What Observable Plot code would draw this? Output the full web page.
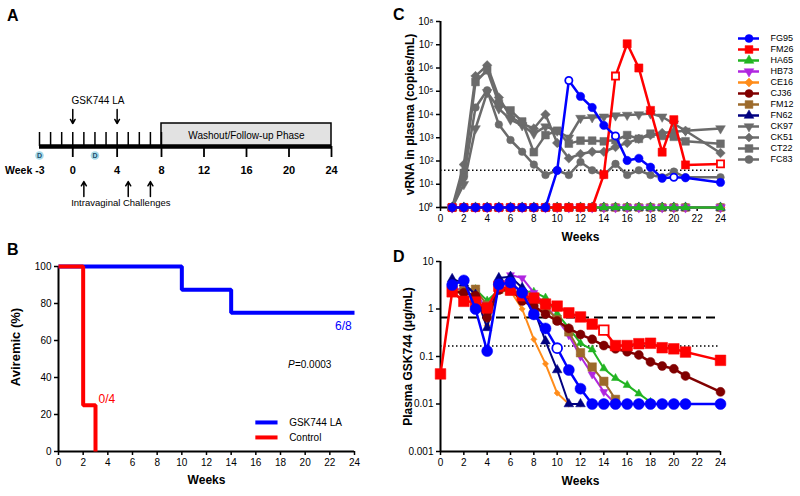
<!DOCTYPE html>
<html><head><meta charset="utf-8">
<script src="https://cdn.jsdelivr.net/npm/d3@7"></script>
<script src="https://cdn.jsdelivr.net/npm/@observablehq/plot@0.6"></script>
<style>
body{margin:0;background:#fff;}
#fig{position:relative;width:800px;height:496px;overflow:hidden;background:#fff;font-family:"Liberation Sans",Arial,sans-serif;}
.panel{position:absolute;}
.letter{position:absolute;font-weight:bold;font-size:16px;line-height:16px;font-family:"Liberation Sans",Arial,sans-serif;}
</style></head><body>
<div id="fig"></div>
<script>
// ---------------- Panel A data ----------------
const baselineWeeks = [-3,-2,-1,0,1,2,3,4,5,6,7,8];
const labelWeeks = [0,4,8,12,16,20,24];
const injectionWeeks = [0,4];
const challengeWeeks = [1,5,7];
const swabWeeks = [-3,2];
const washoutPhase = [{start: 8, end: 24, label: "Washout/Follow-up Phase"}];

// ---------------- Panel B data ----------------
const kmWeeksLA = [0,10,14,24];
const kmLA = [100,87.5,75,75];
const kmWeeksCtrl = [0,2,3];
const kmCtrl = [100,25,0];
const kmLegend = ["GSK744 LA","Control"];
const pctTicks = [0,20,40,60,80,100];
const weekTicks = [0,2,4,6,8,10,12,14,16,18,20,22,24];

// ---------------- Panel C data (vRNA copies/mL) ----------------
const weeksC = [1,2,3,4,5,6,7,8,9,10,11,12,13,14,15,16,17,18,19,20,21,24];
const undetectedC = [1,1,1,1,1,1,1,1,1,1,1,1,1,1,1,1,1,1,1,1,1,1];
const vrnaFG95 = [1,1,1,1,1,1,1,1,1,39,290000,60000,20000,3400,1200,105,130,54,18,20,19,12];
const vrnaFM26 = [1,1,1,1,1,1,1,1,1,1,1,1,1,26,450000,11000000,1000000,15000,240,6000,68,75];
const vrnaCK97 = [1,10,2500,90000,18000,6000,3400,1500,3000,2000,1000,7000,7500,8000,9000,9500,10000,11000,8000,4000,2000,2500];
const vrnaCK51 = [1,70,450000,1300000,54000,8000,4000,2500,10000,600,130,200,250,250,400,600,900,1300,1600,1800,2000,220];
const vrnaCT22 = [1,30,250000,800000,30000,15000,5000,240,1300,2000,560,750,750,700,800,1300,900,1500,1200,1100,700,550];
const vrnaFC83 = [1,20,20000,110000,3700,800,250,70,25,40,25,90,40,25,75,25,40,25,20,35,20,20];
const openFG95_C = [11,15,20];
const openFM26_C = [15,24];
const lodC = 40;
const copyTicks = [1,10,100,1000,10000,100000,1000000,10000000,100000000];

// ---------------- Panel D data (plasma GSK744 ug/mL) ----------------
const weeksD = [0,1,2,3,4,5,6,7,8,9,10,11,12,13,14,15,16,17,18,19,20,21,24];
const pkFG95 = [null,3.2,4.0,1.0,0.13,3.3,3.6,2.2,0.77,0.39,0.15,0.052,0.021,0.01,0.01,0.01,0.01,0.01,0.01,0.01,0.01,0.01,0.01];
const pkFM26 = [0.043,2.3,1.45,1.4,1.05,3.0,2.5,1.9,1.7,1.27,1.15,0.83,0.68,0.48,0.36,0.17,0.17,0.186,0.19,0.153,0.145,0.124,0.083];
const pkCJ36 = [null,2.3,2.2,1.9,0.66,2.5,2.6,1.47,1.15,0.78,0.56,0.39,0.29,0.23,0.17,0.145,0.126,0.108,0.077,0.063,0.055,0.039,0.018];
const pkHA65 = [null,2.2,2.6,2.6,1.5,2.5,2.3,2.3,2.3,1.73,0.8,0.4,0.19,0.14,0.056,0.035,0.025,0.0165,0.011,null,null,null,null];
const pkHB73 = [null,2.5,2.7,2.4,0.9,2.8,5.2,4.5,2.2,1.2,0.6,0.28,0.1,0.042,0.018,0.01,null,null,null,null,null,null,null];
const pkFM12 = [null,2.5,2.4,2.6,1.2,2.6,2.4,2.0,1.6,1.1,0.6,0.33,0.12,0.06,0.03,0.0125,null,null,null,null,null,null,null];
const pkCE16 = [null,2.5,2.2,2.0,0.45,2.6,2.4,1.0,0.23,0.07,0.017,0.01,0.01,null,null,null,null,null,null,null,null,null,null];
const pkFN62 = [null,4.3,3.5,2.0,0.4,4.5,4.8,2.8,1.0,0.21,0.052,0.01,0.01,null,null,null,null,null,null,null,null,null,null];
const openFG95_D = [10];
const openFM26_D = [14];
const paIC90 = 0.166;
const paIC90x4 = 0.664;
const concTicks = [0.001,0.01,0.1,1,10];

// ---------------- animals ----------------
const animals = ["FG95","FM26","HA65","HB73","CE16","CJ36","FM12","FN62","CK97","CK51","CT22","FC83"];
const animalColors = ["#0000ff","#ff0000","#22b422","#b026e0","#ff8c1a","#800000","#9c6a2b","#000080","#6b6b6b","#6b6b6b","#6b6b6b","#6b6b6b"];
const animalSymbols = ["circle","square","triangle","triangleDown","diamond2","circle","square","triangle","triangleDown","diamond2","square","circle"];

// ---------------- helpers ----------------
const FONT = '"Liberation Sans", Arial, sans-serif';
const triangleDown = {draw(ctx, size) {
  const y = -Math.sqrt(size / (Math.sqrt(3) * 3));
  ctx.moveTo(0, -2 * y);
  ctx.lineTo(Math.sqrt(3) * y, y);
  ctx.lineTo(-Math.sqrt(3) * y, y);
  ctx.closePath();
}};
const sym = s => s === "triangleDown" ? triangleDown : s;
const colorOf = Object.fromEntries(animals.map((a, i) => [a, animalColors[i]]));
const symbolOf = Object.fromEntries(animals.map((a, i) => [a, animalSymbols[i]]));
const rowsOf = (weeks, vals) => weeks.map((w, i) => ({week: w, value: vals[i]})).filter(d => d.value != null);
const supDigits = {"0":"⁰","1":"¹","2":"²","3":"³","4":"⁴","5":"⁵","6":"⁶","7":"⁷","8":"⁸","9":"⁹"};
const powTen = d => "10" + supDigits[String(Math.round(Math.log10(d)))];

function seriesMarks(rows, id, r, sw, openWeeks = []) {
  const color = colorOf[id], s = sym(symbolOf[id]);
  const filled = rows.filter(d => !openWeeks.includes(d.week));
  const open = rows.filter(d => openWeeks.includes(d.week));
  return [
    Plot.line(rows, {x: "week", y: "value", stroke: color, strokeWidth: sw}),
    Plot.dot(filled, {x: "week", y: "value", symbol: s, r, fill: color, stroke: color, strokeWidth: 0.5}),
    Plot.dot(open, {x: "week", y: "value", symbol: s, r: r - 0.6, fill: "white", stroke: color, strokeWidth: 1.8})
  ];
}
const baseStyle = {fontFamily: FONT, fontSize: "10px", color: "black", background: "none", overflow: "visible"};
const fig = document.getElementById("fig");
function place(svg, left, top) { svg.classList.add("panel"); svg.style.left = left + "px"; svg.style.top = top + "px"; svg.style.position = "absolute"; fig.appendChild(svg); }
function letter(t, left, top) { const d = document.createElement("div"); d.className = "letter"; d.textContent = t; d.style.left = left + "px"; d.style.top = top + "px"; fig.appendChild(d); }

// ---------------- Panel A ----------------
const plotA = Plot.plot({
  width: 400, height: 250, marginLeft: 39, marginRight: 69, marginTop: 0, marginBottom: 0,
  style: baseStyle,
  x: {type: "linear", domain: [-3, 8, 24], range: [39, 161, 331], axis: null},
  y: {domain: [0, 250], range: [0, 250], axis: null},
  marks: [
    Plot.rect(washoutPhase, {x1: "start", x2: "end", y1: 123, y2: 146, fill: "#e2e2e2", stroke: "black", strokeWidth: 1.5}),
    Plot.text(washoutPhase, {x: d => (d.start + d.end) / 2, y: 135, text: "label", fontSize: 10}),
    Plot.ruleX(baselineWeeks, {x: d => d, y1: 132, y2: 146, strokeWidth: 1.5}),
    Plot.ruleX(labelWeeks, {x: d => d, y1: 146, y2: 157, strokeWidth: 1.8}),
    Plot.ruleY([146], {x1: -3, x2: 24, strokeWidth: 4.5}),
    Plot.dot(swabWeeks, {x: d => d, y: 155, r: 4.3, fill: "#a9dbe9"}),
    Plot.text(swabWeeks, {x: d => d, y: 155, text: () => "D", fontSize: 7, fontWeight: "bold", fill: "#1d4f6e"}),
    Plot.text(labelWeeks, {x: d => d, y: 170, text: d => String(d), fontSize: 11, fontWeight: "bold"}),
    Plot.text(["Week -3"], {x: -3, dx: 5, y: 170, textAnchor: "end", fontSize: 10.5, fontWeight: "bold"}),
    Plot.text(["GSK744 LA"], {x: d3.mean(injectionWeeks), dx: 3, y: 100, fontSize: 10}),
    Plot.arrow(injectionWeeks, {x: d => d, y1: 109, y2: 123, headLength: 5, strokeWidth: 1.5, stroke: "black"}),
    Plot.arrow(challengeWeeks, {x: d => d, y1: 196, y2: 181, headLength: 5, strokeWidth: 1.5, stroke: "black"}),
    Plot.text(["Intravaginal Challenges"], {x: d3.mean(challengeWeeks), y: 202, fontSize: 9.5})
  ]
});
place(plotA, 0, 0);

// ---------------- Panel B ----------------
const rowsLA = kmWeeksLA.map((w, i) => ({week: w, pct: kmLA[i]}));
const rowsCtrl = kmWeeksCtrl.map((w, i) => ({week: w, pct: kmCtrl[i]}));
const plotB = Plot.plot({
  width: 400, height: 246, marginLeft: 58, marginRight: 46, marginTop: 16, marginBottom: 45,
  style: baseStyle,
  x: {domain: [0, 24], axis: null},
  y: {domain: [0, 100], axis: null},
  marks: [
    Plot.axisX({ticks: weekTicks, tickSize: 4, tickPadding: 3, strokeWidth: 1.5, label: null, fontSize: 10}),
    Plot.axisY({ticks: pctTicks, tickSize: 4, tickPadding: 3, strokeWidth: 1.5, label: null, fontSize: 10}),
    Plot.ruleX([0], {strokeWidth: 2}),
    Plot.ruleY([0], {strokeWidth: 2}),
    Plot.line(rowsLA, {x: "week", y: "pct", curve: "step-after", stroke: "#0000ff", strokeWidth: 4, strokeLinejoin: "miter", strokeLinecap: "butt"}),
    Plot.line(rowsCtrl, {x: "week", y: "pct", curve: "step-after", stroke: "#ff0000", strokeWidth: 4, strokeLinejoin: "miter", strokeLinecap: "butt"}),
    Plot.text(["6/8"], {x: 23.1, y: 67.5, fill: "#0000ff", fontSize: 12}),
    Plot.text(["0/4"], {x: 3.25, y: 28.5, textAnchor: "start", fill: "#ff0000", fontSize: 12}),
    Plot.text(["P"], {x: 18.6, y: 47, textAnchor: "start", fontStyle: "italic", fontSize: 10}),
    Plot.text(["=0.0003"], {x: 18.6, dx: 7, y: 47, textAnchor: "start", fontSize: 10}),
    Plot.ruleY(kmLegend, {x1: 16, x2: 17.8, y: (d, i) => [15.7, 7.6][i], stroke: (d, i) => ["#0000ff", "#ff0000"][i], strokeWidth: 4}),
    Plot.text(kmLegend, {x: 18.7, y: (d, i) => [15.7, 7.6][i], textAnchor: "start", fontSize: 10}),
    Plot.text(["Weeks"], {frameAnchor: "bottom", dy: 32, fontWeight: "bold", fontSize: 12}),
    Plot.text(["Aviremic (%)"], {frameAnchor: "left", textAnchor: "middle", dx: -43, dy: -12, rotate: -90, fontWeight: "bold", fontSize: 13})
  ]
});
place(plotB, 0, 250);

// ---------------- Panel C ----------------
const cRow = vals => rowsOf(weeksC, vals);
const plotC = Plot.plot({
  width: 330, height: 250, marginLeft: 40, marginRight: 10, marginTop: 21, marginBottom: 43,
  style: baseStyle,
  x: {domain: [0, 24], axis: null},
  y: {type: "log", domain: [1, 1e8], axis: null},
  marks: [
    Plot.axisX({ticks: weekTicks, tickSize: 4, tickPadding: 3, strokeWidth: 1.5, label: null, fontSize: 10}),
    Plot.axisY({ticks: copyTicks, tickFormat: powTen, tickSize: 4, tickPadding: 3, strokeWidth: 1.5, label: null, fontSize: 10}),
    Plot.ruleX([0], {strokeWidth: 2}),
    Plot.ruleY([1], {strokeWidth: 2}),
    Plot.ruleY([lodC], {x1: 0, x2: 24, strokeWidth: 1.5, strokeDasharray: "1.5,2.5"}),
    ...seriesMarks(cRow(vrnaCK97), "CK97", 3.6, 2.5),
    ...seriesMarks(cRow(vrnaCK51), "CK51", 4.3, 2.5),
    ...seriesMarks(cRow(vrnaCT22), "CT22", 4.4, 2.5),
    ...seriesMarks(cRow(vrnaFC83), "FC83", 3.8, 2.5),
    ...seriesMarks(cRow(undetectedC), "CJ36", 4, 2.5),
    ...seriesMarks(cRow(undetectedC), "FM12", 4.4, 2.5),
    ...seriesMarks(cRow(undetectedC), "FN62", 3.6, 2.5),
    ...seriesMarks(cRow(undetectedC), "CE16", 4, 2.5),
    ...seriesMarks(cRow(undetectedC), "HB73", 3.6, 2.5),
    ...seriesMarks(cRow(undetectedC), "HA65", 3.2, 2.5),
    ...seriesMarks(cRow(vrnaFM26), "FM26", 4.6, 2.5, openFM26_C),
    ...seriesMarks(cRow(vrnaFG95), "FG95", 4.2, 2.5, openFG95_C),
    Plot.text(["Weeks"], {frameAnchor: "bottom", dy: 33, fontWeight: "bold", fontSize: 12}),
    Plot.text(["vRNA in plasma (copies/mL)"], {frameAnchor: "left", textAnchor: "middle", dx: -30, rotate: -90, fontWeight: "bold", fontSize: 12})
  ]
});
place(plotC, 400, 0);

// ---------------- Legend for C ----------------
const legendC = Plot.plot({
  width: 70, height: 160, marginLeft: 0, marginRight: 0, marginTop: 0, marginBottom: 0,
  style: baseStyle,
  x: {domain: [0, 1], range: [8, 29], axis: null},
  y: {type: "point", domain: animals, range: [10, 147], axis: null},
  marks: [
    ...animals.flatMap(a => [
      Plot.ruleY([a], {y: d => d, x1: 0, x2: 1, stroke: colorOf[a], strokeWidth: 2.5}),
      Plot.dot([a], {x: 0.5, y: d => d, symbol: sym(symbolOf[a]), r: symbolOf[a] === "square" ? 4.4 : symbolOf[a].startsWith("tri") ? 3.6 : 4, fill: colorOf[a], stroke: colorOf[a], strokeWidth: 0.5})
    ]),
    Plot.text(animals, {x: 1, y: d => d, dx: 11, textAnchor: "start", fontSize: 9})
  ]
});
place(legendC, 730, 20);

// ---------------- Panel D ----------------
const dRow = vals => rowsOf(weeksD, vals);
const plotD = Plot.plot({
  width: 330, height: 246, marginLeft: 40, marginRight: 10, marginTop: 11, marginBottom: 45,
  style: baseStyle,
  x: {domain: [0, 24], axis: null},
  y: {type: "log", domain: [0.001, 10], axis: null},
  marks: [
    Plot.axisX({ticks: weekTicks, tickSize: 4, tickPadding: 3, strokeWidth: 1.5, label: null, fontSize: 10}),
    Plot.axisY({ticks: concTicks, tickFormat: d => String(d), tickSize: 4, tickPadding: 3, strokeWidth: 1.5, label: null, fontSize: 10}),
    Plot.ruleX([0], {strokeWidth: 2}),
    Plot.ruleY([0.001], {strokeWidth: 2}),
    Plot.ruleY([paIC90x4], {x1: 0, x2: 24, strokeWidth: 2, strokeDasharray: "9,5"}),
    Plot.ruleY([paIC90], {x1: 0, x2: 24, strokeWidth: 1.5, strokeDasharray: "1.5,2.5"}),
    ...seriesMarks(dRow(pkHA65), "HA65", 3, 2),
    ...seriesMarks(dRow(pkHB73), "HB73", 3, 2),
    ...seriesMarks(dRow(pkFM12), "FM12", 4.8, 2),
    ...seriesMarks(dRow(pkCE16), "CE16", 2.8, 2),
    ...seriesMarks(dRow(pkFN62), "FN62", 3.6, 2),
    ...seriesMarks(dRow(pkCJ36), "CJ36", 4.5, 2.5),
    ...seriesMarks(dRow(pkFM26), "FM26", 6, 2.5, openFM26_D),
    ...seriesMarks(dRow(pkFG95), "FG95", 5.5, 2.5, openFG95_D),
    Plot.text(["Weeks"], {frameAnchor: "bottom", dy: 33, fontWeight: "bold", fontSize: 12}),
    Plot.text(["Plasma GSK744 (μg/mL)"], {frameAnchor: "left", textAnchor: "middle", dx: -32, rotate: -90, fontWeight: "bold", fontSize: 12})
  ]
});
place(plotD, 400, 250);

letter("A", 7, 8);
letter("B", 7, 242);
letter("C", 393, 7);
letter("D", 393, 249);
</script></body></html>
